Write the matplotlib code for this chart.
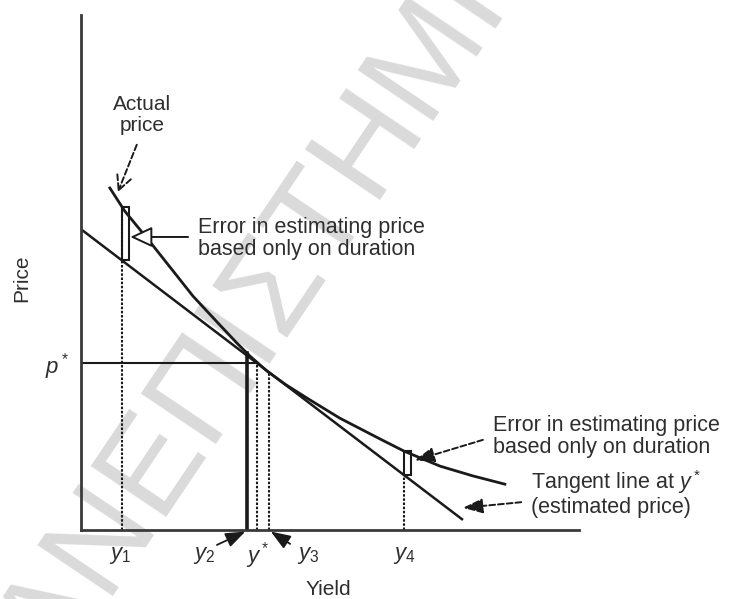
import matplotlib

matplotlib.use("Agg")
import matplotlib.pyplot as plt
from matplotlib.patches import Rectangle
import numpy as np

plt.rcParams["font.family"] = ["Liberation Sans", "DejaVu Sans"]
plt.rcParams["mathtext.fontset"] = "custom"
plt.rcParams["mathtext.it"] = "Liberation Sans:italic"
plt.rcParams["mathtext.rm"] = "Liberation Sans"

INK = "#1a1a1a"
AXIS = "#3a3a3a"
TXT = "#2e2e2e"
WATERMARK = "#dadada"

# price/yield relationship (yield, price), arbitrary units
curve_yield = [0.58, 0.88, 1.39, 2.25, 2.75, 3.13, 3.39, 3.73, 4.10, 4.54,
               5.20, 6.00, 6.49, 7.21, 7.87, 8.51]
curve_price = [6.64, 6.19, 5.59, 4.54, 4.02, 3.63, 3.38, 3.09, 2.83, 2.56,
               2.17, 1.77, 1.53, 1.24, 1.05, 0.89]

# tangent line at y* (estimated price), end points
tangent_yield = [0.0, 7.65]
tangent_price = [5.84, 0.21]

# yields marked on the x axis
mark_labels = ["$y_1$", "$y_2$", "$y^*$", "$y_3$", "$y_4$"]
mark_yields = [0.82, 3.33, 3.53, 3.78, 6.49]
y1, y2, ystar, y3, y4 = mark_yields


def actual(y):
    return np.interp(y, curve_yield, curve_price)


def estimated(y):
    return np.interp(y, tangent_yield, tangent_price)


p_star = estimated(ystar)

fig = plt.figure(figsize=(7.29, 5.99), dpi=100)
fig.patch.set_facecolor("white")

# faint diagonal watermark behind the drawing
fig.text(0.3855, 0.449, "ΠΑΝΕΠΙΣΤΗΜΙΟ", rotation=56, rotation_mode="anchor",
         ha="center", va="baseline", fontsize=95, color=WATERMARK,
         family="Liberation Sans", zorder=-1)

ax = fig.add_axes([81 / 729, 69 / 599, 498 / 729, 515 / 599])
ax.set_facecolor("none")
ax.set_xlim(0, 10)
ax.set_ylim(0, 10)
ax.set_xticks([])
ax.set_yticks([])
for side in ("top", "right"):
    ax.spines[side].set_visible(False)
for side in ("left", "bottom"):
    ax.spines[side].set_linewidth(2)
    ax.spines[side].set_color(AXIS)

# curve and tangent
ax.plot(curve_yield, curve_price, color=INK, lw=2, solid_joinstyle="round")
ax.plot(tangent_yield, tangent_price, color=INK, lw=1.8)

dots = (0, (1.2, 0.8))
# guide lines
ax.plot([y1, y1], [0, actual(y1)], color=INK, lw=1.5, ls=dots)
ax.plot([y2, y2], [0, actual(y2)], color=INK, lw=2.6)
ax.plot([ystar, ystar], [0, p_star], color=INK, lw=1.5, ls=dots)
ax.plot([y3, y3], [0, actual(y3)], color=INK, lw=1.5, ls=dots)
ax.plot([y4, y4], [0, estimated(y4)], color=INK, lw=1.5, ls=dots)
ax.plot([0, ystar], [p_star, p_star], color=INK, lw=1.5)

# error boxes between actual and estimated price
for y in (y1, y4):
    lo, hi = estimated(y), actual(y)
    ax.add_patch(Rectangle((y, lo), 0.14, hi - lo, fill=False,
                           ec=INK, lw=1.5))

# axis mark labels
label_x = [0.78, 2.47, 3.55, 4.56, 6.49]
for lab, lx in zip(mark_labels, label_x):
    ax.text(lx, -0.49, lab, ha="center", va="center", fontsize=16,
            color=TXT)
ax.text(-0.48, 3.18, "$p^*$", ha="center", va="center", fontsize=16,
        color=TXT)

ax.text(4.96, -1.15, "Yield", ha="center", va="center", fontsize=15,
        color=TXT)
ax.text(-1.18, 4.89, "Price", ha="center", va="center", fontsize=15,
        rotation=90, color=TXT)

# annotations
ax.text(1.22, 8.06, "Actual\nprice", ha="center", va="center",
        fontsize=15, color=TXT, linespacing=1.15)
ax.annotate("", xy=(0.74, 6.56), xytext=(1.12, 7.48), annotation_clip=False,
            arrowprops=dict(arrowstyle="->,head_length=0.7,head_width=0.35",
                            color=INK, lw=1.4, ls=(0, (3, 1.5)),
                            shrinkA=0, shrinkB=0, mutation_scale=15))

ax.text(2.35, 5.66, "Error in estimating price\nbased only on duration",
        ha="left", va="center", fontsize=15.5, color=TXT, linespacing=1.05)
ax.annotate("", xy=(0.99, 5.69), xytext=(2.15, 5.69), annotation_clip=False,
            arrowprops=dict(arrowstyle="-|>,head_length=0.9,head_width=0.42",
                            fc="white", ec=INK, lw=1.4,
                            shrinkA=0, shrinkB=0, mutation_scale=15))

ax.text(8.27, 1.81, "Error in estimating price\nbased only on duration",
        ha="left", va="center", fontsize=15.5, color=TXT, linespacing=1.05)
ax.annotate("", xy=(6.70, 1.35), xytext=(8.07, 1.75), annotation_clip=False,
            arrowprops=dict(arrowstyle="-|>,head_length=0.8,head_width=0.3",
                            color=INK, lw=1.4, ls=(0, (3, 1.5)),
                            shrinkA=0, shrinkB=0, mutation_scale=15))

ax.text(9.04, 0.72, "Tangent line at $y^*$\n(estimated price)",
        ha="left", va="center", fontsize=15.5, color=TXT, linespacing=1.05)
ax.annotate("", xy=(7.67, 0.43), xytext=(8.84, 0.54), annotation_clip=False,
            arrowprops=dict(arrowstyle="-|>,head_length=0.8,head_width=0.3",
                            color=INK, lw=1.4, ls=(0, (3, 1.5)),
                            shrinkA=0, shrinkB=0, mutation_scale=15))

# small arrows pointing at y2 and y3 on the axis
ax.annotate("", xy=(y2 - 0.03, -0.03), xytext=(2.73, -0.29),
            annotation_clip=False,
            arrowprops=dict(arrowstyle="-|>,head_length=0.8,head_width=0.3",
                            color=INK, lw=1.3, shrinkA=0, shrinkB=0,
                            mutation_scale=15))
ax.annotate("", xy=(y3 + 0.03, -0.03), xytext=(4.20, -0.27),
            annotation_clip=False,
            arrowprops=dict(arrowstyle="-|>,head_length=0.8,head_width=0.3",
                            color=INK, lw=1.3, shrinkA=0, shrinkB=0,
                            mutation_scale=15))

fig.savefig("out.png", dpi=100, facecolor="white")
